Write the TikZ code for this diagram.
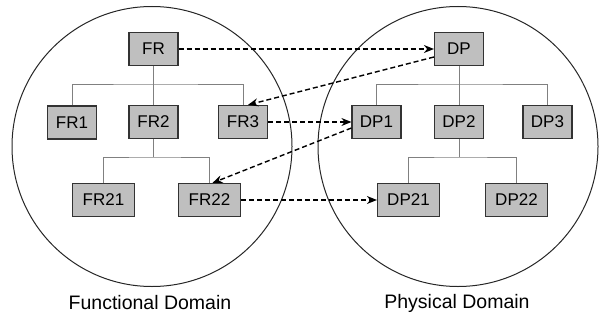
\documentclass[tikz,border=0pt]{standalone}
\usepackage{fontspec}
\setmainfont{Liberation Sans}
\usetikzlibrary{arrows.meta}
\begin{document}
\begin{tikzpicture}[x=1pt,y=-1pt,
  box/.style={draw=black!80,line width=1.2pt,fill=black!25,minimum width=49pt,
    minimum height=33pt,inner sep=0pt,font=\fontsize{17}{19}\selectfont},
  wide/.style={box,minimum width=62pt},
  tree/.style={draw=black!50,line width=0.9pt},
  link/.style={draw=black,line width=1.4pt,dash pattern=on 5pt off 3pt,
    -{Stealth[length=10pt,width=8pt]}},
  dcaption/.style={font=\fontsize{19.5}{22}\selectfont},
  ring/.style={draw=black!85,line width=1pt}]
\useasboundingbox (0,0) rectangle (599,321);

% domain circles
\node[ring,circle,minimum size=280pt,inner sep=0pt] (fd) at (152,146.5) {};
\node[ring,circle,minimum size=280pt,inner sep=0pt] (pd) at (458,146.5) {};

% functional hierarchy
\node[box] (FR)  at (153.5,49) {FR};
\node[box] (FR1) at (72,122.5) {FR1};
\node[box] (FR2) at (153.5,122) {FR2};
\node[box] (FR3) at (243,122) {FR3};
\node[wide] (FR21) at (103.5,200) {FR21};
\node[wide] (FR22) at (209.5,200) {FR22};

% physical hierarchy
\node[box] (DP)  at (459,49) {DP};
\node[box] (DP1) at (376.5,122) {DP1};
\node[box] (DP2) at (459,122) {DP2};
\node[box] (DP3) at (547.5,122) {DP3};
\node[wide] (DP21) at (408.5,200) {DP21};
\node[wide] (DP22) at (516.5,200) {DP22};

% bar levels of the trees
\coordinate (barA) at (0,84);
\coordinate (barB) at (0,157);

% tree connections
\draw[tree] (FR.south) -- (FR2.north);
\draw[tree] (FR1.north) |- (barA -| FR.south) -| (FR3.north);
\draw[tree] (FR2.south) -- (FR2.south |- barB);
\draw[tree] (FR21.north) |- (barB -| FR2.south) -| (FR22.north);

\draw[tree] (DP.south) -- (DP2.north);
\draw[tree] (DP1.north) |- (barA -| DP.south) -| (DP3.north);
\draw[tree] (DP2.south) -- (DP2.south |- barB);
\draw[tree] (DP21.north) |- (barB -| DP2.south) -| (DP22.north);

% mappings between domains
\draw[link] (FR.east) -- (DP.west);
\draw[link] ([yshift=-8pt]DP.west) -- ([xshift=5pt]FR3.north);
\draw[link] (FR3.east) -- (DP1.west);
\draw[link] ([yshift=-6pt]DP1.west) -- ([xshift=3pt]FR22.north);
\draw[link] (FR22.east) -- (DP21.west);

% captions
\node[dcaption] (fdl) at (150,303) {Functional Domain};
\node[dcaption] (pdl) at (457,303) {Physical Domain};
\end{tikzpicture}
\end{document}
